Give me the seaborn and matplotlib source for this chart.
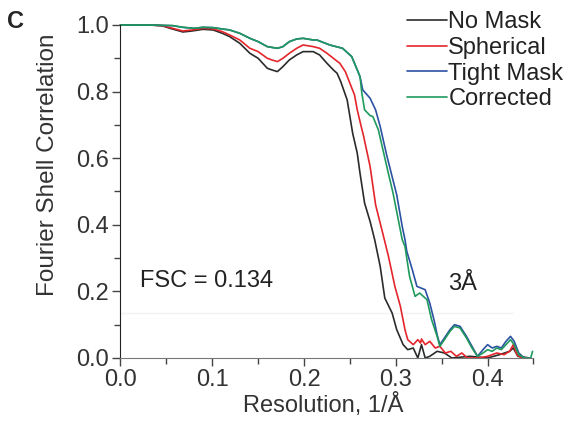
import pandas as pd
import matplotlib
matplotlib.use('Agg')
import matplotlib.pyplot as plt
import seaborn as sns

# FSC curves (x = resolution 1/A, y = FSC)
no_mask_x = [0.0, 0.032, 0.046, 0.054, 0.068, 0.078, 0.090, 0.101, 0.111, 0.119, 0.130, 0.141, 0.150,
             0.160, 0.165, 0.171, 0.177, 0.184, 0.192, 0.199, 0.210, 0.217, 0.225, 0.232, 0.236, 0.240,
             0.247, 0.253, 0.258, 0.261, 0.266, 0.272, 0.277, 0.283, 0.288, 0.296, 0.301, 0.308, 0.313,
             0.319, 0.324, 0.328, 0.332, 0.337, 0.345, 0.353, 0.361, 0.381, 0.400, 0.413, 0.424, 0.428,
             0.433, 0.446]
no_mask_y = [1.0, 1.0, 0.997, 0.99, 0.979, 0.982, 0.987, 0.985, 0.975, 0.965, 0.945, 0.915, 0.9,
             0.87, 0.865, 0.86, 0.875, 0.895, 0.91, 0.92, 0.92, 0.91, 0.885, 0.865, 0.855, 0.83,
             0.775, 0.675, 0.615, 0.555, 0.465, 0.41, 0.355, 0.275, 0.18, 0.135, 0.085, 0.04, 0.025,
             0.03, 0.0, 0.04, 0.0, 0.005, 0.02, 0.015, 0.0, 0.005, 0.0, 0.01, 0.02, 0.03,
             0.005, 0.0]

spherical_x = [0.0, 0.032, 0.046, 0.054, 0.068, 0.078, 0.090, 0.101, 0.111, 0.119, 0.130, 0.141, 0.150,
               0.160, 0.165, 0.171, 0.177, 0.184, 0.192, 0.199, 0.210, 0.217, 0.225, 0.232, 0.239, 0.245,
               0.250, 0.255, 0.258, 0.261, 0.265, 0.272, 0.278, 0.283, 0.288, 0.292, 0.299, 0.305, 0.310,
               0.313, 0.319, 0.324, 0.327, 0.328, 0.332, 0.337, 0.343, 0.348, 0.354, 0.360, 0.366, 0.372,
               0.378, 0.390, 0.400, 0.410, 0.418, 0.424, 0.428, 0.432, 0.437, 0.446]
spherical_y = [1.0, 1.0, 0.998, 0.992, 0.982, 0.985, 0.99, 0.988, 0.98, 0.97, 0.955, 0.93, 0.92,
               0.9, 0.895, 0.89, 0.9, 0.915, 0.93, 0.94, 0.935, 0.93, 0.915, 0.9, 0.885, 0.86,
               0.825, 0.79, 0.745, 0.71, 0.665, 0.575, 0.46, 0.405, 0.35, 0.305, 0.215, 0.155, 0.085,
               0.055, 0.04, 0.055, 0.045, 0.057, 0.04, 0.05, 0.03, 0.035, 0.015, 0.02, 0.005, 0.015,
               0.0, 0.0, 0.005, 0.015, 0.01, 0.02, 0.04, 0.01, 0.0, 0.0]

tight_x = [0.0, 0.032, 0.057, 0.068, 0.080, 0.090, 0.101, 0.111, 0.119, 0.130, 0.141, 0.150, 0.160,
           0.171, 0.177, 0.184, 0.192, 0.199, 0.210, 0.214, 0.228, 0.242, 0.252, 0.258, 0.261, 0.264,
           0.272, 0.278, 0.283, 0.290, 0.301, 0.307, 0.310, 0.312, 0.318, 0.323, 0.332, 0.337, 0.342,
           0.345, 0.348, 0.353, 0.359, 0.364, 0.370, 0.377, 0.383, 0.389, 0.395, 0.400, 0.405, 0.410,
           0.415, 0.420, 0.425, 0.429, 0.434, 0.440, 0.447]
tight_y = [1.0, 1.0, 0.998, 0.993, 0.99, 0.993, 0.992, 0.988, 0.985, 0.975, 0.96, 0.95, 0.935,
           0.93, 0.935, 0.95, 0.958, 0.96, 0.955, 0.955, 0.94, 0.93, 0.905, 0.865, 0.845, 0.805,
           0.78, 0.745, 0.695, 0.61, 0.49, 0.395, 0.355, 0.32, 0.265, 0.215, 0.205, 0.165, 0.11,
           0.07, 0.04, 0.06, 0.085, 0.1, 0.095, 0.065, 0.035, 0.005, 0.025, 0.04, 0.03, 0.035,
           0.03, 0.05, 0.065, 0.05, 0.015, 0.0, 0.0]

corrected_x = [0.0, 0.032, 0.057, 0.068, 0.080, 0.090, 0.101, 0.111, 0.119, 0.130, 0.141, 0.150, 0.160,
               0.171, 0.177, 0.184, 0.192, 0.199, 0.210, 0.214, 0.228, 0.242, 0.252, 0.258, 0.261, 0.263,
               0.266, 0.272, 0.275, 0.281, 0.286, 0.291, 0.297, 0.302, 0.307, 0.310, 0.315, 0.321, 0.326,
               0.334, 0.339, 0.345, 0.348, 0.353, 0.359, 0.364, 0.370, 0.377, 0.383, 0.389, 0.395, 0.400,
               0.405, 0.410, 0.415, 0.420, 0.425, 0.429, 0.434, 0.440, 0.447, 0.449]
corrected_y = [1.0, 1.0, 0.998, 0.993, 0.99, 0.993, 0.992, 0.988, 0.985, 0.975, 0.96, 0.95, 0.935,
               0.93, 0.935, 0.95, 0.958, 0.96, 0.955, 0.955, 0.94, 0.93, 0.905, 0.865, 0.845, 0.795,
               0.745, 0.728, 0.725, 0.685, 0.625, 0.565, 0.495, 0.425, 0.355, 0.335, 0.245, 0.185, 0.195,
               0.175, 0.115, 0.065, 0.035, 0.055, 0.08, 0.095, 0.09, 0.06, 0.03, 0.005, 0.015, 0.025,
               0.02, 0.03, 0.025, 0.04, 0.055, 0.04, 0.01, 0.0, 0.0, 0.02]

labels = ['No Mask', 'Spherical', 'Tight Mask', 'Corrected']
colors = ['#2b2b2b', '#e4262c', '#2c52a3', '#1f9a5c']

sns.set_style('white')
plt.rcParams['font.family'] = ['Liberation Sans', 'DejaVu Sans']

fig = plt.figure(figsize=(5.68, 4.22), dpi=100)
ax = fig.add_axes([0.2121, 0.1517, 0.7271, 0.7891])

series = [(no_mask_x, no_mask_y), (spherical_x, spherical_y), (tight_x, tight_y), (corrected_x, corrected_y)]
for (xs, ys), lab, col in zip(series, labels, colors):
    sns.lineplot(x=xs, y=ys, ax=ax, color=col, linewidth=1.2, label=lab, sort=False, clip_on=False)

# faint threshold line
ax.axhline(0.134, xmin=0.0, xmax=0.95, color='#f2f2f2', linewidth=1, zorder=0)

ax.set_xlim(0, 0.45)
ax.set_ylim(0, 1.0)
ax.set_xticks([0.0, 0.1, 0.2, 0.3, 0.4])
ax.set_xticks([0.05, 0.15, 0.25, 0.35, 0.45], minor=True)
ax.set_yticks([0.0, 0.2, 0.4, 0.6, 0.8, 1.0])
ax.set_yticks([0.1, 0.3, 0.5, 0.7, 0.9], minor=True)
ax.set_xticklabels(['0.0', '0.1', '0.2', '0.3', '0.4'])
ax.set_yticklabels(['0.0', '0.2', '0.4', '0.6', '0.8', '1.0'])
ax.tick_params(axis='both', which='major', direction='out', length=6, width=1, labelsize=17,
               labelcolor='#333333', color='#444444', pad=2)
ax.tick_params(axis='both', which='minor', direction='out', length=4, width=1, color='#444444')
ax.tick_params(bottom=True, left=True, which='both')

for side in ['top', 'right']:
    ax.spines[side].set_visible(False)
ax.spines['left'].set_color('#222222')
ax.spines['bottom'].set_color('#777777')

ax.set_xlabel('Resolution, 1/Å', fontsize=17, color='#333333')
ax.set_ylabel('Fourier Shell Correlation', fontsize=17.5, color='#333333')
ax.xaxis.set_label_coords(0.49, -0.106)
ax.yaxis.set_label_coords(-0.15, 0.58)

ax.text(0.021, 0.231, 'FSC = 0.134', fontsize=17, color='#222222', va='center', ha='left')
ax.text(0.357, 0.222, '3Å', fontsize=17, color='#222222', va='center', ha='left')

fig.text(15 / 568, 1 - 22 / 422, 'C', fontsize=17, fontweight='bold', ha='center', va='center')

ax.get_legend().remove()
handles, labs = ax.get_legend_handles_labels()
fig.legend(handles[:4], labs[:4], loc='upper left', bbox_to_anchor=(407 / 568, 1 - 11 / 422),
           frameon=False, fontsize=17, handlelength=1.7, handletextpad=0.05,
           labelspacing=0.16, borderpad=0, borderaxespad=0, labelcolor='#222222')

fig.savefig('out.png', dpi=100)
